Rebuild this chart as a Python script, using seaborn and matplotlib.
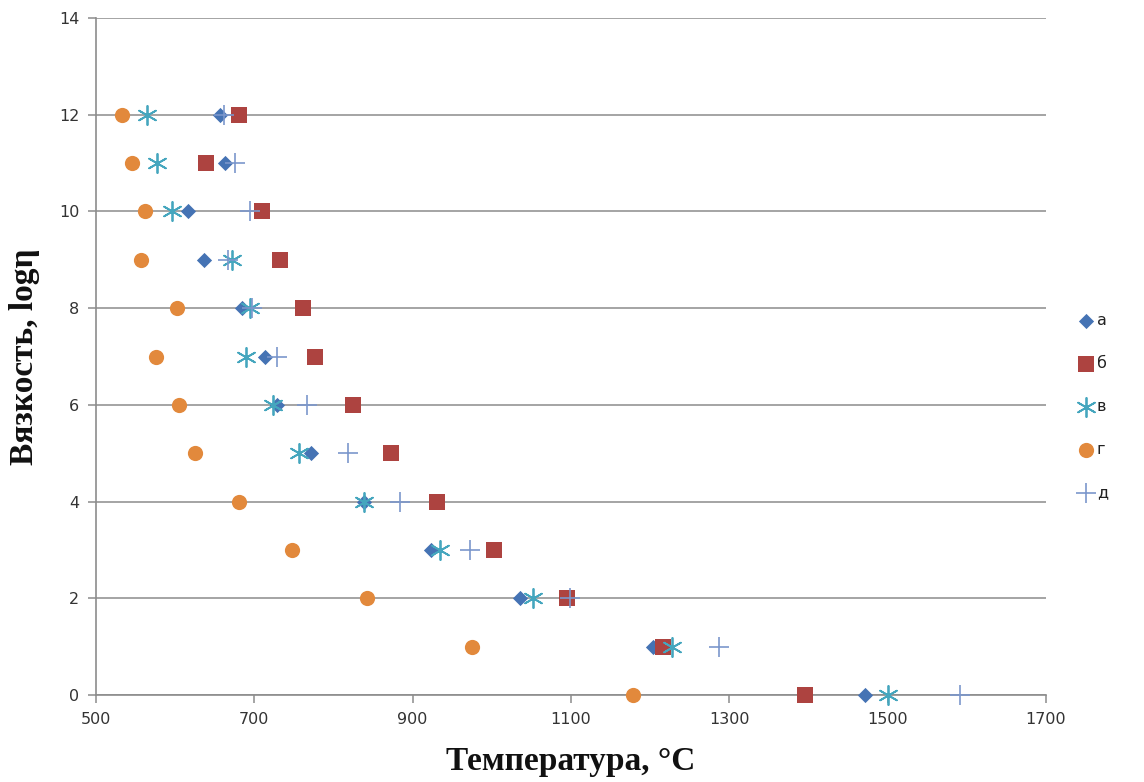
import numpy as np
import pandas as pd
import matplotlib
matplotlib.use("Agg")
import matplotlib.pyplot as plt
import seaborn as sns

# viscosity levels (log eta)
y_a = [12, 11, 10, 9, 8, 7, 6, 5, 4, 3, 2, 1, 0]
t_a = [657, 663, 616, 637, 685, 714, 728, 771, 838, 923, 1035, 1203, 1471]
y_b = [12, 11, 10, 9, 8, 7, 6, 5, 4, 3, 2, 1, 0]
t_b = [680, 639, 710, 733, 762, 777, 824, 872, 931, 1003, 1095, 1216, 1396]
y_v = [12, 11, 10, 9, 8, 7, 6, 5, 4, 3, 2, 1, 0]
t_v = [565, 577, 596, 672, 695, 689, 724, 756, 838, 935, 1052, 1228, 1500]
y_g = [12, 11, 10, 9, 8, 7, 6, 5, 4, 3, 2, 1, 0]
t_g = [533, 546, 562, 557, 602, 576, 605, 625, 680, 748, 842, 975, 1178]
y_d = [12, 11, 10, 9, 8, 7, 6, 5, 4, 3, 2, 1, 0]
t_d = [662, 676, 695, 667, 697, 729, 767, 818, 884, 972, 1099, 1287, 1591]

series_names = ["а", "б", "в", "г", "д"]
x_ticks = [500, 700, 900, 1100, 1300, 1500, 1700]
y_ticks = [0, 2, 4, 6, 8, 10, 12, 14]

sns.set_theme(style="white")
plt.rcParams['font.family'] = ['DejaVu Sans']

fig = plt.figure(figsize=(11.44, 7.82), dpi=100)
ax = fig.add_axes([96/1144, 87/782, 950/1144, 677/782])

styles = [
    dict(marker="D", s=60, color="#4573B4", linewidth=0),
    dict(marker="s", s=120, color="#AD4340", linewidth=0),
    dict(marker=(6, 2, 0), s=190, color="#45A6BE", linewidth=1.3),
    dict(marker="o", s=120, color="#E2893C", linewidth=0),
    dict(marker="+", s=200, color="#7B97CC", linewidth=1.2),
]
data_sets = [(t_a, y_a), (t_b, y_b), (t_v, y_v), (t_g, y_g), (t_d, y_d)]

for name, (tx, ty), st in zip(series_names, data_sets, styles):
    df = pd.DataFrame({"T": tx, "logeta": ty})
    sns.scatterplot(data=df, x="T", y="logeta", ax=ax, label=name,
                    zorder=3, clip_on=False, **st)

ax.set_xlim(500, 1700)
ax.set_ylim(0, 14)
ax.set_xticks(x_ticks)
ax.set_yticks(y_ticks)
ax.yaxis.grid(True, color="#8c8c8c", linewidth=1.1)
ax.xaxis.grid(False)
for s in ["top", "right"]:
    ax.spines[s].set_visible(False)
for s in ["left", "bottom"]:
    ax.spines[s].set_color("#8c8c8c")
    ax.spines[s].set_linewidth(1.2)
ax.tick_params(axis="both", which="major", direction="out", length=6,
               width=1.1, color="#8c8c8c", labelsize=11.5, labelcolor="#333333",
               left=True, bottom=True, pad=6)
ax.set_axisbelow(True)

ax.set_xlabel("Температура, °C", fontsize=24, fontweight="bold",
              family="Liberation Serif", color="#111111", labelpad=14)
ax.set_ylabel("Вязкость, logη", fontsize=24, fontweight="bold",
              family="Liberation Serif", color="#111111", labelpad=14)

leg = ax.legend(loc="center left", bbox_to_anchor=(1.025, 0.426), frameon=False,
                fontsize=11.5, labelspacing=1.75, handletextpad=0.1,
                handlelength=1.2, borderaxespad=0)
for t in leg.get_texts():
    t.set_color("#222222")

fig.savefig("out.png", dpi=100)
